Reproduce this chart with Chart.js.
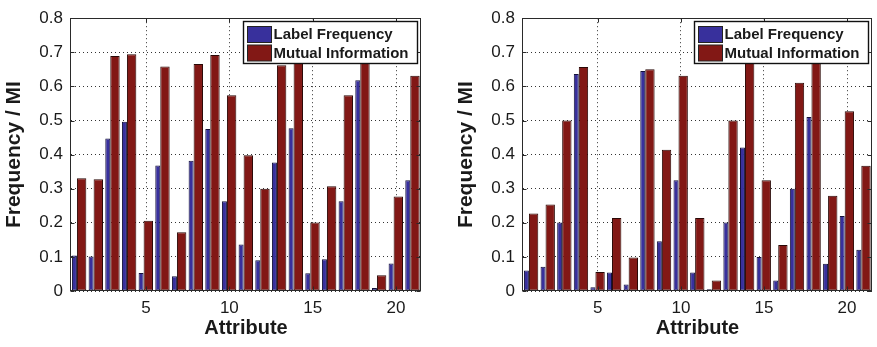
<!DOCTYPE html>
<html>
<head>
<meta charset="utf-8">
<script src="https://cdn.jsdelivr.net/npm/chart.js@4.4.1/dist/chart.umd.min.js"></script>
<style>
  html, body { margin: 0; padding: 0; background: #fff; }
  #wrap { position: relative; width: 877px; height: 347px; }
  .panel { position: absolute; top: 0; height: 347px; }
  #left { left: 0; width: 440px; }
  #right { left: 440px; width: 437px; }
</style>
</head>
<body>
<div id="wrap">
  <div class="panel" id="left"><canvas id="chartLeft"></canvas></div>
  <div class="panel" id="right"><canvas id="chartRight"></canvas></div>
</div>
<script>
// attributes on the x axis, and which of them get a tick label
const attributes = ['1', '2', '3', '4', '5', '6', '7', '8', '9', '10', '11',
  '12', '13', '14', '15', '16', '17', '18', '19', '20', '21'];
const xTickLabels = ['5', '10', '15', '20'];

// left panel
const freqLeft = [0.104, 0.101, 0.447, 0.496, 0.053, 0.368, 0.043, 0.382, 0.475, 0.263, 0.136,
  0.090, 0.377, 0.477, 0.052, 0.093, 0.263, 0.618, 0.009, 0.081, 0.325];
const miLeft = [0.331, 0.328, 0.689, 0.694, 0.206, 0.658, 0.172, 0.666, 0.692, 0.574, 0.398,
  0.300, 0.662, 0.690, 0.201, 0.307, 0.574, 0.700, 0.046, 0.277, 0.631];

// right panel
const freqRight = [0.060, 0.071, 0.201, 0.636, 0.011, 0.054, 0.019, 0.645, 0.146, 0.325, 0.054,
  0.005, 0.201, 0.421, 0.100, 0.031, 0.300, 0.510, 0.080, 0.220, 0.121];
const miRight = [0.227, 0.254, 0.500, 0.657, 0.056, 0.214, 0.098, 0.650, 0.414, 0.631, 0.214,
  0.031, 0.500, 0.690, 0.325, 0.135, 0.611, 0.700, 0.279, 0.527, 0.367];

const FONT = '"Liberation Sans", Arial, Helvetica, sans-serif';
const INK = '#1a1a1a';

// box around the plot area plus the small inward ticks
const frame = {
  id: 'frame',
  afterDatasetsDraw(chart) {
    const {ctx, chartArea: a, scales} = chart;
    const l = Math.round(a.left) - 0.5, r = Math.round(a.right) - 0.5;
    const t = Math.round(a.top) + 0.5, b = Math.round(a.bottom) - 0.5;
    ctx.save();
    ctx.strokeStyle = '#2a2a2a';
    ctx.lineWidth = 1;
    ctx.beginPath();
    scales.y.ticks.forEach(tk => {
      const y = Math.round(scales.y.getPixelForValue(tk.value)) + 0.5;
      ctx.moveTo(l, y); ctx.lineTo(l + 4, y);
      ctx.moveTo(r, y); ctx.lineTo(r - 4, y);
    });
    attributes.forEach((lab, i) => {
      if (!xTickLabels.includes(lab)) return;
      const x = Math.round(scales.x.getPixelForValue(i)) + 0.5;
      ctx.moveTo(x, b); ctx.lineTo(x, b - 4);
      ctx.moveTo(x, t); ctx.lineTo(x, t + 4);
    });
    ctx.stroke();
    ctx.strokeRect(l, t, r - l, b - t);
    ctx.restore();
  }
};

// MATLAB style boxed legend, drawn over the bars
const boxLegend = {
  id: 'boxLegend',
  afterDatasetsDraw(chart) {
    const {ctx, chartArea: a} = chart;
    const w = 174, h = 42;
    const x = Math.round(a.right - 4 - w) + 0.5, y = Math.round(a.top + 3) + 0.5;
    ctx.save();
    ctx.fillStyle = '#fff';
    ctx.fillRect(x, y, w, h);
    ctx.strokeStyle = '#111';
    ctx.lineWidth = 1.4;
    ctx.strokeRect(x, y, w, h);
    ctx.font = 'bold 15px ' + FONT;
    ctx.textBaseline = 'middle';
    chart.data.datasets.forEach((ds, i) => {
      const sy = y + 5 + i * 18.5;
      ctx.fillStyle = ds.backgroundColor;
      ctx.fillRect(x + 4, sy, 24, 16);
      ctx.strokeStyle = '#222';
      ctx.lineWidth = 1;
      ctx.strokeRect(x + 4, sy, 24, 16);
      ctx.fillStyle = INK;
      ctx.fillText(ds.label, x + 30, sy + 8.5);
    });
    ctx.restore();
  }
};

function makeChart(id, freq, mi, padLeft, padRight) {
  return new Chart(document.getElementById(id), {
    type: 'bar',
    data: {
      labels: attributes,
      datasets: [{
        label: 'Label Frequency',
        data: freq,
        backgroundColor: '#38309c',
        borderColor: '#15123a',
        borderWidth: 1,
        borderSkipped: false,
        categoryPercentage: 1.175,
        barPercentage: 0.51
      }, {
        label: 'Mutual Information',
        data: mi,
        backgroundColor: '#821815',
        borderColor: '#2a0806',
        borderWidth: 1,
        borderSkipped: false,
        categoryPercentage: 0.552,
        barPercentage: 2.04
      }]
    },
    options: {
      responsive: true,
      maintainAspectRatio: false,
      animation: false,
      layout: { padding: { left: padLeft, right: padRight, top: 15, bottom: 0 } },
      plugins: {
        legend: { display: false },
        tooltip: { enabled: false }
      },
      scales: {
        x: {
          offset: true,
          grid: {
            offset: false,
            drawTicks: false,
            color: c => (c.tick && xTickLabels.includes(attributes[c.index])) ? '#333' : 'transparent'
          },
          border: { display: false, dash: [1, 3] },
          ticks: {
            autoSkip: false,
            maxRotation: 0,
            padding: 7,
            color: INK,
            font: { family: FONT, size: 17 },
            callback: (v, i) => xTickLabels.includes(attributes[i]) ? attributes[i] : ''
          },
          title: {
            display: true,
            text: 'Attribute',
            color: INK,
            font: { family: FONT, size: 20, weight: 'bold' },
            padding: { top: 0, bottom: 7 }
          },
          afterFit: s => { s.height = 56; }
        },
        y: {
          min: 0,
          max: 0.8,
          grid: {
            drawTicks: false,
            color: '#333'
          },
          border: { display: false, dash: [1, 3] },
          ticks: {
            stepSize: 0.1,
            padding: 8,
            color: INK,
            font: { family: FONT, size: 17 }
          },
          title: {
            display: true,
            text: 'Frequency / MI',
            color: INK,
            font: { family: FONT, size: 21, weight: 'bold' },
            padding: { top: 2, bottom: 0 }
          },
          afterFit: s => { s.width = 71; }
        }
      }
    },
    plugins: [frame, boxLegend]
  });
}

makeChart('chartLeft', freqLeft, miLeft, 0, 19);
makeChart('chartRight', freqRight, miRight, 12, 5);
</script>
</body>
</html>
